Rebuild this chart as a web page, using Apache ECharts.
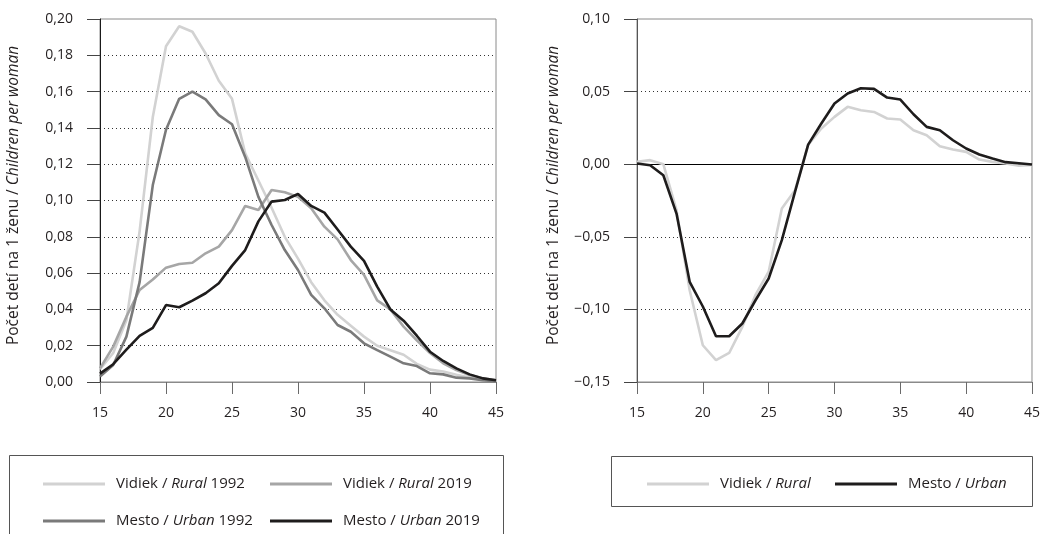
<!DOCTYPE html>
<html><head><meta charset="utf-8">
<script src="https://cdn.jsdelivr.net/npm/echarts@6/dist/echarts.min.js"></script>
<style>html,body{margin:0;padding:0;background:#fff}#c{width:1043px;height:534px}</style>
</head><body><div id="c"></div>
<script>
const ages = [15,16,17,18,19,20,21,22,23,24,25,26,27,28,29,30,31,32,33,34,35,36,37,38,39,40,41,42,43,44,45];
const rural1992 = [0.007,0.016,0.034,0.083,0.146,0.185,0.196,0.193,0.181,0.166,0.156,0.126,0.111,0.096,0.080,0.068,0.055,0.045,0.037,0.031,0.025,0.020,0.0175,0.015,0.010,0.0068,0.0058,0.004,0.0025,0.0012,0.0007];
const rural2019 = [0.0075,0.0195,0.036,0.0507,0.0565,0.063,0.065,0.0657,0.0709,0.0746,0.0837,0.097,0.0948,0.1058,0.1045,0.102,0.0957,0.0856,0.0786,0.0672,0.059,0.045,0.040,0.0305,0.023,0.016,0.0103,0.0066,0.0039,0.002,0.001];
const urban1992 = [0.003,0.0094,0.025,0.055,0.1085,0.139,0.156,0.160,0.1557,0.147,0.142,0.124,0.102,0.0865,0.0727,0.0617,0.048,0.0406,0.0314,0.0277,0.0213,0.0176,0.014,0.0103,0.0088,0.0048,0.0042,0.0024,0.002,0.001,0.0005];
const urban2019 = [0.0046,0.0098,0.0178,0.0254,0.0298,0.0424,0.0412,0.0448,0.0489,0.0544,0.064,0.0727,0.0885,0.0994,0.1003,0.1036,0.097,0.0933,0.084,0.0746,0.0667,0.0525,0.040,0.0338,0.0255,0.0167,0.0116,0.0075,0.0042,0.002,0.001];
const ruralDiff = [0.0016,0.0028,0.0,-0.0317,-0.0868,-0.1247,-0.135,-0.130,-0.112,-0.090,-0.074,-0.0305,-0.018,0.0133,0.0246,0.0326,0.0395,0.0372,0.036,0.0315,0.0308,0.0234,0.020,0.0124,0.0101,0.0085,0.0032,0.0016,0.0005,-0.001,-0.0005];
const urbanDiff = [0.0005,-0.0007,-0.0076,-0.034,-0.081,-0.098,-0.1185,-0.1185,-0.1097,-0.0937,-0.0787,-0.0523,-0.019,0.0135,0.028,0.0418,0.0487,0.0523,0.0519,0.0459,0.0445,0.0344,0.0257,0.0234,0.0165,0.0108,0.0067,0.0039,0.0014,0.0007,-0.0002];
const xTicks = [15,20,25,30,35,40,45];
const yTicksLeft = ['0,00','0,02','0,04','0,06','0,08','0,10','0,12','0,14','0,16','0,18','0,20'];
const yTicksRight = ['\u22120,15','\u22120,10','\u22120,05','0,00','0,05','0,10'];
const names = ['Vidiek / Rural 1992','Vidiek / Rural 2019','Mesto / Urban 1992','Mesto / Urban 2019','Vidiek / Rural','Mesto / Urban'];
const yNamePlain = 'Počet detí na 1 ženu / ';
const yNameItalic = 'Children per woman';

const FONT = '"Open Sans", sans-serif';
const TXT = '#231f20';
const pair = arr => ages.map((a,i)=>[a,arr[i]]);

function fmtName(n){
  const m = n.match(/^(\S+ \/ )(Rural|Urban)(.*)$/);
  return '{s|}{n|'+m[1]+'}{i|'+m[2]+'}{n|'+m[3]+'}';
}
const rich = {
  s:{width:6},
  n:{fontFamily:FONT,fontSize:15,color:TXT},
  i:{fontFamily:FONT,fontSize:15,color:TXT,fontStyle:'italic'}
};
function legend(name,left,top){
  return {data:[name],left:left,top:top,icon:'rect',itemWidth:62,itemHeight:3,
    formatter:fmtName,textStyle:{rich:rich,lineHeight:20},selectedMode:false};
}
function yAxisCfg(grid,min,max,interval,labels,lineColor){
  return {type:'value',gridIndex:grid,min:min,max:max,interval:interval,
    name:'{a|'+yNamePlain+'}{b|'+yNameItalic+'}',
    nameLocation:'middle',nameGap:grid===0?78:75,
    nameTextStyle:{padding:[0,0,0,10],rich:{a:{fontFamily:FONT,fontSize:15.5,color:TXT},b:{fontFamily:FONT,fontSize:15.5,color:TXT,fontStyle:'italic'}}},
    axisLine:{show:true,lineStyle:{color:lineColor,width:1}},
    axisTick:{show:true,inside:false,length:13,lineStyle:{color:'#444'}},
    axisLabel:{margin:27,fontFamily:FONT,fontSize:14,color:TXT,
      formatter:(v)=>labels[Math.round((v-min)/interval)]},
    splitLine:{show:true,showMinLine:false,showMaxLine:false,lineStyle:{color:'#333',type:[1,3],width:1}}
  };
}
function xAxisCfg(grid){
  return {type:'value',gridIndex:grid,min:15,max:45,interval:5,
    axisLine:{onZero:false,lineStyle:{color:'#8a8a8a',width:1}},
    axisTick:{length:12,lineStyle:{color:'#6a6a6a'}},
    axisLabel:{margin:24,fontFamily:FONT,fontSize:14,color:TXT,formatter:v=>xTicks.includes(v)?String(v):''},
    splitLine:{show:false}};
}
function line(name,data,color,grid,extra){
  return Object.assign({type:'line',name:name,data:pair(data),xAxisIndex:grid,yAxisIndex:grid,
    showSymbol:false,symbol:'none',color:color,lineStyle:{color:color,width:2.6},
    itemStyle:{color:color},animation:false,z:3},extra||{});
}

const chart = echarts.init(document.getElementById('c'),null,{renderer:'canvas'});
chart.setOption({
  animation:false,
  backgroundColor:'#fff',
  grid:[
    {left:100,top:19,width:396,height:363,show:true,borderColor:'#8a8a8a',borderWidth:1,backgroundColor:'transparent'},
    {left:637,top:19,width:396,height:363,show:true,borderColor:'#8a8a8a',borderWidth:1,backgroundColor:'transparent'}
  ],
  xAxis:[xAxisCfg(0),xAxisCfg(1)],
  yAxis:[yAxisCfg(0,0,0.2,0.02,yTicksLeft,'#1a1a1a'),yAxisCfg(1,-0.15,0.1,0.05,yTicksRight,'#555')],
  legend:[
    legend(names[0],38,469),legend(names[1],265,469),
    legend(names[2],38,506),legend(names[3],265,506),
    legend(names[4],642,469),legend(names[5],830,469)
  ],
  graphic:[
    {type:'rect',shape:{x:9.5,y:455.5,width:494,height:90},style:{fill:'none',stroke:'#555',lineWidth:1},silent:true},
    {type:'rect',shape:{x:611.5,y:456.5,width:421,height:50},style:{fill:'none',stroke:'#555',lineWidth:1},silent:true}
  ],
  series:[
    line(names[0],rural1992,'#d2d2d2',0),
    line(names[1],rural2019,'#a6a6a6',0),
    line(names[2],urban1992,'#7a7a7a',0),
    line(names[3],urban2019,'#1e1c1c',0),
    line(names[4],ruralDiff,'#d2d2d2',1,{markLine:{silent:true,symbol:'none',label:{show:false},animation:false,
      lineStyle:{color:'#000',type:'solid',width:1},data:[{yAxis:0}],z:2}}),
    line(names[5],urbanDiff,'#1e1c1c',1)
  ]
});
</script></body></html>
